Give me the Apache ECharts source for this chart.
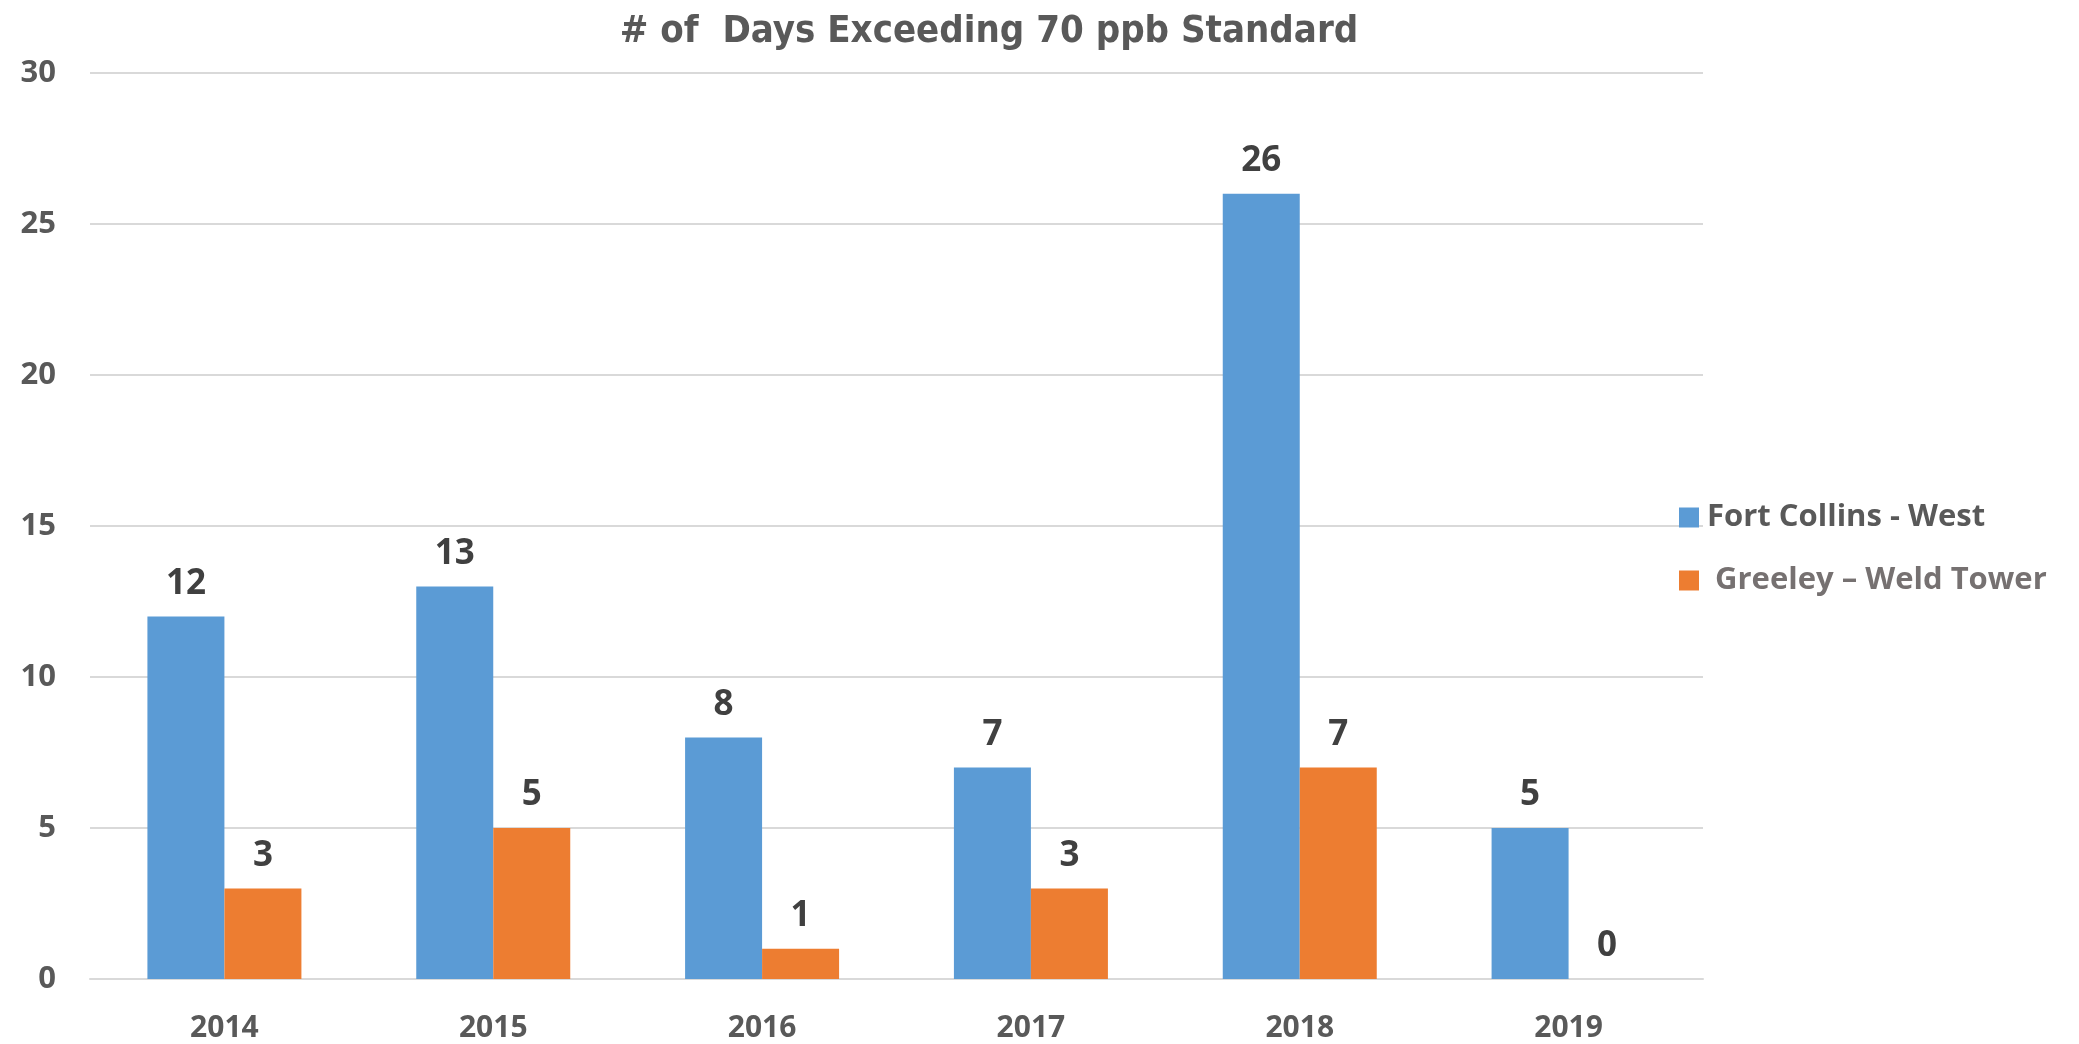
<!DOCTYPE html>
<html>
<head>
<meta charset="utf-8">
<script src="https://cdn.jsdelivr.net/npm/echarts@6/dist/echarts.min.js"></script>
<style>
  html, body { margin: 0; padding: 0; background: #fff; }
  #chart { width: 2079px; height: 1044px; }
</style>
</head>
<body>
<div id="chart"></div>
<script>
// data
var years = ['2014', '2015', '2016', '2017', '2018', '2019'];
var fortCollins = [12, 13, 8, 7, 26, 5];
var greeley = [3, 5, 1, 3, 7, 0];
var seriesNames = ['Fort Collins - West', ' Greeley \u2013 Weld Tower'];

var chart = echarts.init(document.getElementById('chart'));

function barLabel() {
  return {
    show: true,
    position: 'top',
    distance: 15,
    fontFamily: 'Open Sans',
    fontWeight: 'bold',
    fontSize: 35,
    color: '#404040'
  };
}

var option = {
  backgroundColor: '#ffffff',
  animation: false,
  title: {
    text: '# of  Days Exceeding 70 ppb Standard',
    left: 984,
    top: 8,
    textAlign: 'center',
    textStyle: {
      fontFamily: 'DejaVu Sans Condensed, Open Sans, sans-serif',
      fontWeight: 'bold',
      fontSize: 38,
      color: '#595959'
    }
  },
  legend: {
    orient: 'vertical',
    left: 1674,
    top: 497,
    itemWidth: 20,
    itemHeight: 20,
    itemGap: 32,
    icon: 'rect',
    textStyle: {
      fontFamily: 'Open Sans',
      fontWeight: 'bold',
      fontSize: 31,
      color: '#595959',
      padding: [0, 0, 0, 3]
    },
    data: [
      { name: seriesNames[0] },
      { name: seriesNames[1], textStyle: { color: '#767171' } }
    ]
  },
  grid: {
    left: 90,
    right: 2079 - 1703,
    top: 73,
    bottom: 1044 - 979
  },
  xAxis: {
    type: 'category',
    data: years,
    axisLine: { lineStyle: { color: '#d9d9d9', width: 2 } },
    axisTick: { show: false },
    axisLabel: {
      margin: 34,
      fontFamily: 'Open Sans',
      fontWeight: 'bold',
      fontSize: 30,
      color: '#595959'
    }
  },
  yAxis: {
    type: 'value',
    min: 0,
    max: 30,
    interval: 5,
    axisLine: { show: false },
    axisTick: { show: false },
    splitLine: { lineStyle: { color: '#d9d9d9', width: 2 } },
    axisLabel: {
      margin: 34,
      fontFamily: 'Open Sans',
      fontWeight: 'bold',
      fontSize: 31,
      color: '#595959'
    }
  },
  series: [
    {
      name: seriesNames[0],
      type: 'bar',
      data: fortCollins,
      barWidth: 77,
      barGap: '0%',
      itemStyle: { color: '#5b9bd5' },
      label: barLabel()
    },
    {
      name: seriesNames[1],
      type: 'bar',
      data: greeley,
      barWidth: 77,
      itemStyle: { color: '#ed7d31' },
      label: barLabel()
    }
  ]
};

chart.setOption(option);
</script>
</body>
</html>
